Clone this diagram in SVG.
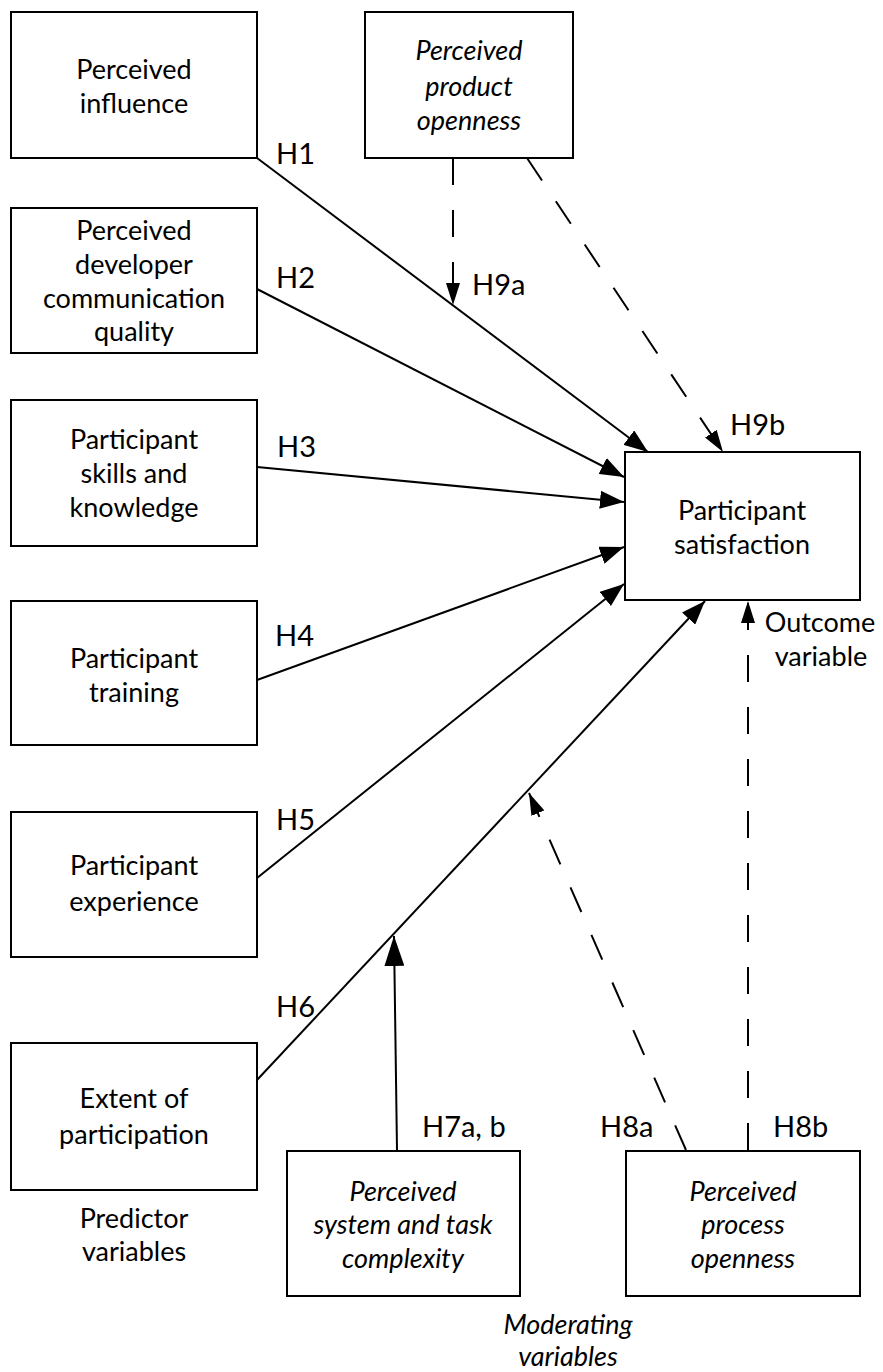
<svg xmlns="http://www.w3.org/2000/svg" width="883" height="1372" viewBox="0 0 883 1372">
<style>
.box{fill:#fff;stroke:#000;stroke-width:2}
.t{font-family:Lato,"Open Sans","DejaVu Sans",sans-serif;font-size:27px;fill:#000;text-anchor:middle}
.i{font-style:italic}
.l{font-family:Lato,"Open Sans","DejaVu Sans",sans-serif;font-size:29px;fill:#000}
.c{stroke:#000;stroke-width:2;fill:none;marker-end:url(#ah)}
.d{stroke-dasharray:27 25;marker-end:url(#ahs)}
</style>
<defs>
<marker id="ah" markerUnits="userSpaceOnUse" markerWidth="26" markerHeight="18" refX="24" refY="9" orient="auto">
<path d="M0,0 L24,9 L0,18 Z" fill="#000"/>
</marker>
<marker id="ahs" markerUnits="userSpaceOnUse" markerWidth="24" markerHeight="14" refX="22" refY="7" orient="auto">
<path d="M0,0 L22,7 L0,14 Z" fill="#000"/>
</marker>
<marker id="ahb" markerUnits="userSpaceOnUse" markerWidth="32" markerHeight="20" refX="30" refY="10" orient="auto">
<path d="M0,0 L30,10 L0,20 Z" fill="#000"/>
</marker>
</defs>
<rect width="883" height="1372" fill="#fff"/>
<g id="connectors">
<path class="c" d="M257,158 L648,452"/>
<path class="c" d="M257,289 L624,477"/>
<path class="c" d="M257,467 L624,502"/>
<path class="c" d="M257,680 L624,547"/>
<path class="c" d="M257,878 L624,584"/>
<path class="c" d="M257,1080 L705,601"/>
<path class="c" style="marker-end:url(#ahb)" d="M397,1150 L394,936"/>
<path class="c d" d="M686,1150 L529,793"/>
<path class="c d" d="M748,1150 L748,601"/>
<path class="c d" d="M453,158 L453,305"/>
<path class="c d" d="M527,158 L723,452"/>
</g>
<g id="labels">
<text class="l" x="276" y="164">H1</text>
<text class="l" x="276" y="288">H2</text>
<text class="l" x="277" y="457">H3</text>
<text class="l" x="275" y="646">H4</text>
<text class="l" x="276" y="830">H5</text>
<text class="l" x="276" y="1017">H6</text>
<text class="l" x="472" y="295">H9a</text>
<text class="l" x="730" y="435">H9b</text>
<text class="l" x="422" y="1137">H7a, b</text>
<text class="l" x="600" y="1137">H8a</text>
<text class="l" x="773" y="1137">H8b</text>
</g>
<g id="n1"><rect class="box" x="11" y="12" width="246" height="146"/>
<text class="t" x="134" y="79">Perceived</text><text class="t" x="134" y="113">influence</text></g>
<g id="n2"><rect class="box" x="11" y="208" width="246" height="145"/>
<text class="t" x="134" y="240">Perceived</text><text class="t" x="134" y="274">developer</text><text class="t" x="134" y="308">communication</text><text class="t" x="134" y="341">quality</text></g>
<g id="n3"><rect class="box" x="11" y="400" width="246" height="146"/>
<text class="t" x="134" y="449">Participant</text><text class="t" x="134" y="483">skills and</text><text class="t" x="134" y="517">knowledge</text></g>
<g id="n4"><rect class="box" x="11" y="601" width="246" height="144"/>
<text class="t" x="134" y="668">Participant</text><text class="t" x="134" y="702">training</text></g>
<g id="n5"><rect class="box" x="11" y="812" width="246" height="145"/>
<text class="t" x="134" y="875">Participant</text><text class="t" x="134" y="911">experience</text></g>
<g id="n6"><rect class="box" x="11" y="1043" width="246" height="147"/>
<text class="t" x="134" y="1108">Extent of</text><text class="t" x="134" y="1144">participation</text></g>
<g id="n7"><rect class="box" x="365" y="12" width="208" height="146"/>
<text class="t i" x="469" y="60">Perceived</text><text class="t i" x="469" y="96">product</text><text class="t i" x="469" y="130">openness</text></g>
<g id="n8"><rect class="box" x="625" y="452" width="235" height="148"/>
<text class="t" x="742" y="520">Participant</text><text class="t" x="742" y="554">satisfaction</text></g>
<g id="n9"><rect class="box" x="287" y="1151" width="233" height="145"/>
<text class="t i" x="403" y="1201">Perceived</text><text class="t i" x="403" y="1234">system and task</text><text class="t i" x="403" y="1268">complexity</text></g>
<g id="n10"><rect class="box" x="626" y="1151" width="234" height="145"/>
<text class="t i" x="743" y="1201">Perceived</text><text class="t i" x="743" y="1234">process</text><text class="t i" x="743" y="1268">openness</text></g>
<g id="captions">
<text class="t" x="820" y="632">Outcome</text><text class="t" x="821" y="666">variable</text>
<text class="t" x="134" y="1228">Predictor</text><text class="t" x="134" y="1261">variables</text>
<text class="t i" x="568" y="1334">Moderating</text><text class="t i" x="568" y="1366">variables</text>
</g>
</svg>
